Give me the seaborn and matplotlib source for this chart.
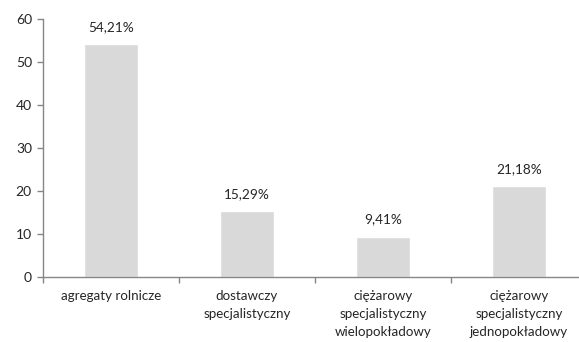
import matplotlib
matplotlib.use("Agg")
import matplotlib.pyplot as plt
import seaborn as sns
import pandas as pd

categories = [
    "agregaty rolnicze",
    "dostawczy\nspecjalistyczny",
    "ciężarowy\nspecjalistyczny\nwielopokładowy",
    "ciężarowy\nspecjalistyczny\njednopokładowy",
]
values = [54.21, 15.29, 9.41, 21.18]
value_labels = ["54,21%", "15,29%", "9,41%", "21,18%"]
y_ticks = [0, 10, 20, 30, 40, 50, 60]

sns.set_style("white")
plt.rcParams["font.family"] = ["Lato", "DejaVu Sans"]

df = pd.DataFrame({"kategoria": categories, "udzial": values})

fig = plt.figure(figsize=(5.79, 3.42), dpi=100)
ax = fig.add_axes([43 / 579, 65 / 342, 544 / 579, 258 / 342])

sns.barplot(data=df, x="kategoria", y="udzial", color="#d9d9d9",
            width=0.39, saturation=1, ax=ax)

ax.set_xlim(-0.5, 3.5)
ax.set_ylim(0, 60)
ax.set_yticks(y_ticks)
ax.set_xlabel("")
ax.set_ylabel("")

for s in ["top", "right"]:
    ax.spines[s].set_visible(False)
for s in ["left", "bottom"]:
    ax.spines[s].set_color("#868686")
    ax.spines[s].set_linewidth(1)

ax.tick_params(axis="y", length=4, width=1, color="#868686", labelsize=10,
               labelcolor="#262626", pad=4, left=True)
ax.tick_params(axis="x", which="major", length=0, labelsize=9.6,
               labelcolor="#262626", pad=9)
ax.set_xticks([-0.5, 0.5, 1.5, 2.5], minor=True)
ax.tick_params(axis="x", which="minor", length=4, width=1, color="#868686",
               bottom=True)
for lbl in ax.get_xticklabels():
    lbl.set_linespacing(1.6)

for i, (v, t) in enumerate(zip(values, value_labels)):
    ax.annotate(t, (i, v), xytext=(0, 8), textcoords="offset points",
                ha="center", va="bottom", fontsize=9.8, color="#262626")

fig.savefig("out.png", dpi=100)
